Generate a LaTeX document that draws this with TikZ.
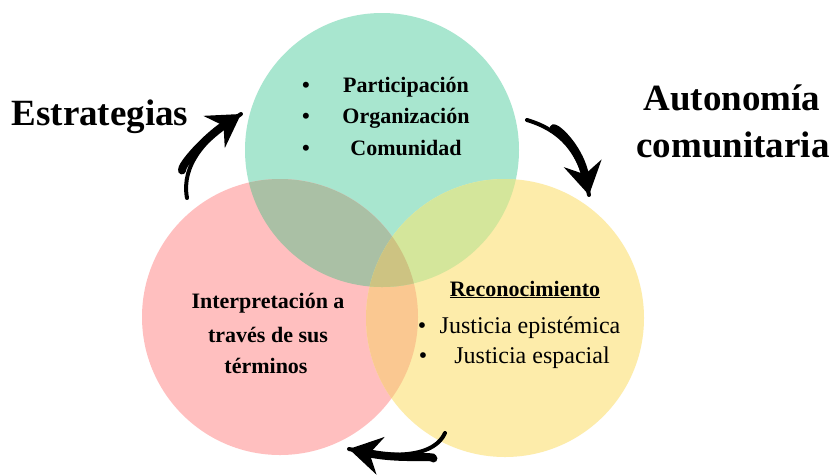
\documentclass[tikz,border=0pt]{standalone}
\usepackage{fontspec}
\setmainfont{Liberation Serif}
\usetikzlibrary{arrows.meta}

\definecolor{verdeC}{HTML}{A8E6CF}
\definecolor{rosaC}{HTML}{FFBFBF}
\definecolor{amarC}{HTML}{FDECAA}
\definecolor{verdeRosa}{HTML}{AAC0A5}
\definecolor{verdeAmar}{HTML}{D4E69B}
\definecolor{rosaAmar}{HTML}{FAC891}
\definecolor{centroC}{HTML}{CDC382}

\begin{document}
\begin{tikzpicture}[x=1pt,y=-1pt]
%%%%%%%%%%%%%%%%%%%%%%%%%%%%%%%%%%%%%%%%%%%%%%%%%%%%%%%%
% STYLE
\tikzstyle{titulo}=[font=\fontsize{37}{40}\selectfont\bfseries, anchor=base, inner sep=0pt]
\tikzstyle{item}=[font=\fontsize{22}{26}\selectfont\bfseries, anchor=base, inner sep=0pt]
\tikzstyle{itemr}=[font=\fontsize{24}{28}\selectfont, anchor=base, inner sep=0pt]

\tikzset{flecha/.style={-{Stealth[length=32pt,width=38pt,inset=11pt]}, line width=8pt, line cap=round, shorten <=28pt}}
\tikzset{cola/.style={line width=4pt, line cap=round}}

\path[use as bounding box, fill=white] (0,0) rectangle (830,475);

%%%%%%%%%%%%%%%%%%%%%%%%%%%%%%%%%%%%%%%%%%%%%%%%%%%%%%%%
% CIRCLES
\coordinate (cVerde) at (382,150);
\coordinate (cRosa) at (280,317);
\coordinate (cAmar) at (505,318);

\fill[verdeC] (cVerde) circle[radius=137pt];
\fill[rosaC] (cRosa) circle[radius=138pt];
\fill[amarC] (cAmar) circle[radius=139pt];

\begin{scope}
\clip (cRosa) circle[radius=138pt];
\fill[rosaAmar] (cAmar) circle[radius=139pt];
\end{scope}
\begin{scope}
\clip (cVerde) circle[radius=137pt];
\fill[verdeRosa] (cRosa) circle[radius=138pt];
\fill[verdeAmar] (cAmar) circle[radius=139pt];
\clip (cRosa) circle[radius=138pt];
\fill[centroC] (cAmar) circle[radius=139pt];
\end{scope}

%%%%%%%%%%%%%%%%%%%%%%%%%%%%%%%%%%%%%%%%%%%%%%%%%%%%%%%%
% NODES
\node[titulo] (estr) at (100,125) {Estrategias};
\node[titulo] (auto1) at (732,110) {Autonomía};
\node[titulo] (auto2) at (733,157) {comunitaria};

\node[item] (b1) at (306,92) {\textbullet};
\node[item] (b2) at (306,123) {\textbullet};
\node[item] (b3) at (306,155) {\textbullet};
\node[item] (part) at (406,92) {Participación};
\node[item] (orga) at (406,123) {Organización};
\node[item] (comu) at (406,155) {Comunidad};

\node[item] (int1) at (268,308) {Interpretación a};
\node[item] (int2) at (268,342) {través de sus};
\node[item] (int3) at (266,373) {términos};

\node[item] (reco) at (525,296) {\underline{Reconocimiento}};
\node[itemr] (b4) at (422,333) {\textbullet};
\node[itemr] (b5) at (423,363) {\textbullet};
\node[itemr] (jus1) at (530,333) {Justicia epistémica};
\node[itemr] (jus2) at (532,363) {Justicia espacial};

%%%%%%%%%%%%%%%%%%%%%%%%%%%%%%%%%%%%%%%%%%%%%%%%%%%%%%%%
% LINKS
\coordinate (izqA) at (187,198);
\coordinate (izqB) at (241,114);
\coordinate (derA) at (527,120);
\coordinate (derB) at (589,195);
\coordinate (abaA) at (445,433);
\coordinate (abaB) at (349,449);

\foreach \s in {cola,flecha} {
  \draw[\s] (izqA) .. controls (181,165) and (205,138) .. (izqB);
  \draw[\s] (derA) .. controls (560,130) and (580,150) .. (derB);
  \draw[\s] (abaA) .. controls (435,455) and (400,460) .. (abaB);
}
\end{tikzpicture}
\end{document}
